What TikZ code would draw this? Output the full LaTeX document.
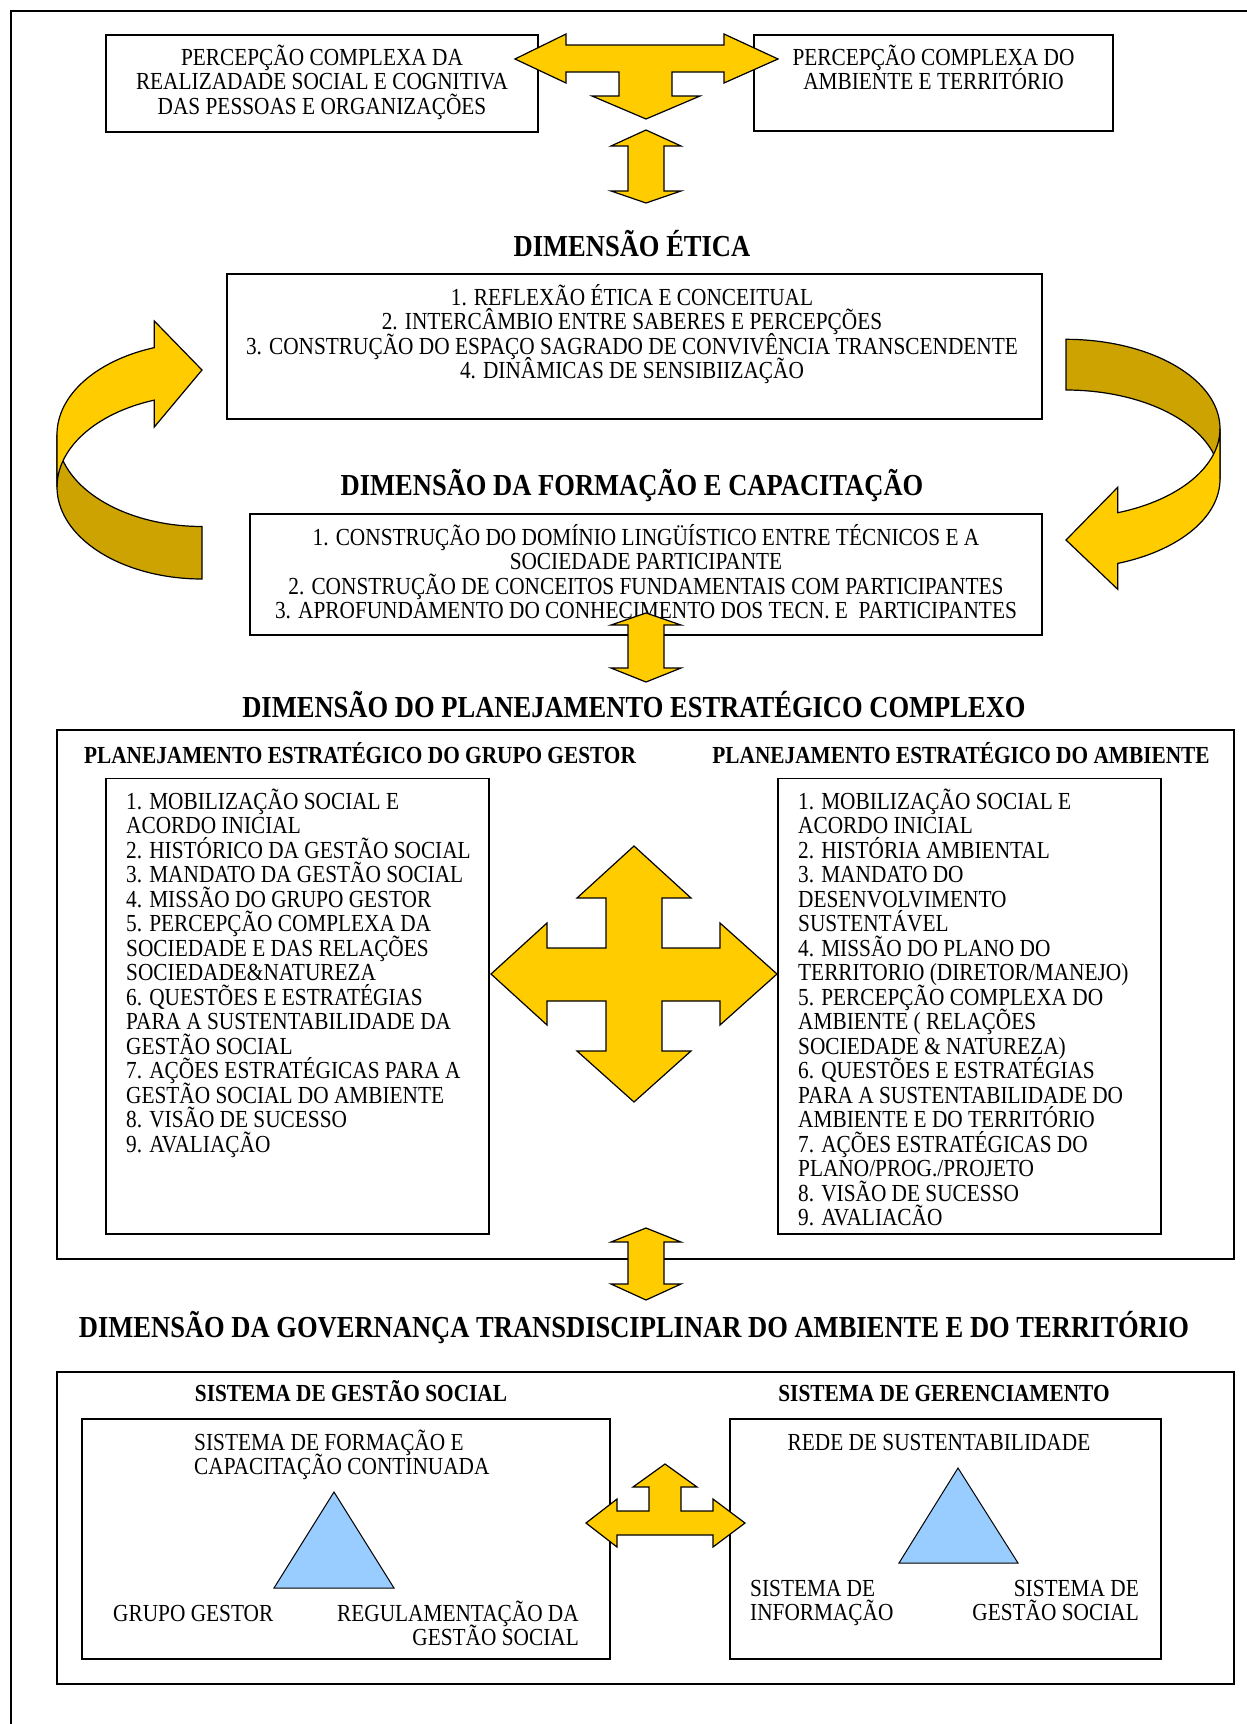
\documentclass[tikz,border=0pt]{standalone}
\usepackage{fontspec}
\setmainfont{Liberation Serif}[FakeStretch=0.87]
\definecolor{amarelo}{RGB}{255,204,0}
\definecolor{ouro}{RGB}{204,163,0}
\definecolor{azul}{RGB}{153,204,255}
\newcommand{\capstrut}{\rule{0pt}{24pt}}
\newcommand{\bodyfont}{\fontsize{24.5}{24.5}\selectfont\lineskiplimit=-50pt\relax}
\tikzset{
  box/.style={draw,line width=1.6pt,inner sep=0pt},
  txt/.style={inner sep=0pt,font=\bodyfont},
  ttl/.style={inner sep=0pt,anchor=base,font=\fontsize{30.5}{30.5}\selectfont\bfseries},
  sub/.style={inner sep=0pt,anchor=base,font=\fontsize{24.5}{24.5}\selectfont\bfseries},
  blockarrow/.style={draw,fill=amarelo,line width=1.2pt},
  backarrow/.style={draw,fill=ouro,line width=1.2pt},
  tri/.style={draw,fill=azul,line width=1pt}
}
\begin{document}
\begin{tikzpicture}[x=1pt,y=-1pt]
\useasboundingbox(0,0)rectangle(1247,1724);
\draw[line width=2pt](1260,11)--(11,11)--(11,1740);

\node[box,minimum width=432pt,minimum height=97pt](1)at(322,83.5){};
\node[box,minimum width=359pt,minimum height=96pt](2)at(933.5,83){};
\node[txt,anchor=north,align=center](3)at(322,41){\capstrut PERCEPÇÃO COMPLEXA DA\\REALIZADADE SOCIAL E COGNITIVA\\DAS PESSOAS E ORGANIZAÇÕES};
\node[txt,anchor=north,align=center](4)at(933.5,41){\capstrut PERCEPÇÃO COMPLEXA DO\\AMBIENTE E TERRITÓRIO};

\node[ttl](5)at(632,256.5){DIMENSÃO ÉTICA};
\node[box,minimum width=815pt,minimum height=145pt](6)at(634.5,346.5){};
\node[txt,anchor=north,align=center](7)at(632,281){\capstrut 1. REFLEXÃO ÉTICA E CONCEITUAL\\2. INTERCÂMBIO ENTRE SABERES E PERCEPÇÕES\\3. CONSTRUÇÃO DO ESPAÇO SAGRADO DE CONVIVÊNCIA TRANSCENDENTE\\4. DINÂMICAS DE SENSIBIIZAÇÃO};

\node[ttl](8)at(632,495.5){DIMENSÃO DA FORMAÇÃO E CAPACITAÇÃO};
\node[box,minimum width=792pt,minimum height=121pt](9)at(646,574.5){};
\node[txt,anchor=north,align=center](10)at(646,521){\capstrut 1. CONSTRUÇÃO DO DOMÍNIO LINGÜÍSTICO ENTRE TÉCNICOS E A\\SOCIEDADE PARTICIPANTE\\2. CONSTRUÇÃO DE CONCEITOS FUNDAMENTAIS COM PARTICIPANTES\\3. APROFUNDAMENTO DO CONHECIMENTO DOS TECN. E~~PARTICIPANTES};

\node[ttl](11)at(634,717){DIMENSÃO DO PLANEJAMENTO ESTRATÉGICO COMPLEXO};
\node[box,minimum width=1177pt,minimum height=529pt](12)at(645.5,994.5){};
\node[sub](13)at(360,763){PLANEJAMENTO ESTRATÉGICO DO GRUPO GESTOR};
\node[sub](14)at(961,763){PLANEJAMENTO ESTRATÉGICO DO AMBIENTE};
\node[box,minimum width=383pt,minimum height=455.5pt](15)at(297.5,1006.25){};
\node[box,minimum width=383pt,minimum height=455.5pt](16)at(969.5,1006.25){};
\node[txt,anchor=north west,align=left](17)at(126,785){\capstrut 1. MOBILIZAÇÃO SOCIAL E\\ACORDO INICIAL\\2. HISTÓRICO DA GESTÃO SOCIAL\\3. MANDATO DA GESTÃO SOCIAL\\4. MISSÃO DO GRUPO GESTOR\\5. PERCEPÇÃO COMPLEXA DA\\SOCIEDADE E DAS RELAÇÕES\\SOCIEDADE\&NATUREZA\\6. QUESTÕES E ESTRATÉGIAS\\PARA A SUSTENTABILIDADE DA\\GESTÃO SOCIAL\\7. AÇÕES ESTRATÉGICAS PARA A\\GESTÃO SOCIAL DO AMBIENTE\\8. VISÃO DE SUCESSO\\9. AVALIAÇÃO};
\node[txt,anchor=north west,align=left](18)at(798,785){\capstrut 1. MOBILIZAÇÃO SOCIAL E\\ACORDO INICIAL\\2. HISTÓRIA AMBIENTAL\\3. MANDATO DO\\DESENVOLVIMENTO\\SUSTENTÁVEL\\4. MISSÃO DO PLANO DO\\TERRITORIO (DIRETOR/MANEJO)\\5. PERCEPÇÃO COMPLEXA DO\\AMBIENTE ( RELAÇÕES\\SOCIEDADE \& NATUREZA)\\6. QUESTÕES E ESTRATÉGIAS\\PARA A SUSTENTABILIDADE DO\\AMBIENTE E DO TERRITÓRIO\\7. AÇÕES ESTRATÉGICAS DO\\PLANO/PROG./PROJETO\\8. VISÃO DE SUCESSO\\9. AVALIACÃO};

\node[ttl](19)at(634,1337.5){DIMENSÃO DA GOVERNANÇA TRANSDISCIPLINAR DO AMBIENTE E DO TERRITÓRIO};
\node[box,minimum width=1177pt,minimum height=312pt](20)at(645.5,1528){};
\node[sub](21)at(351,1401){SISTEMA DE GESTÃO SOCIAL};
\node[sub](22)at(944,1401){SISTEMA DE GERENCIAMENTO};
\node[box,minimum width=528pt,minimum height=240pt](23)at(346,1539){};
\node[box,minimum width=431pt,minimum height=240pt](24)at(945.5,1539){};
\node[txt,anchor=north west,align=left](25)at(194,1426){\capstrut SISTEMA DE FORMAÇÃO E\\CAPACITAÇÃO CONTINUADA};
\node[txt,anchor=base west](26)at(113,1621){GRUPO GESTOR};
\node[txt,anchor=north east,align=right](27)at(579,1597){\capstrut REGULAMENTAÇÃO DA\\GESTÃO SOCIAL};
\node[txt,anchor=base](28)at(939,1450){REDE DE SUSTENTABILIDADE};
\node[txt,anchor=north west,align=left](29)at(750,1572){\capstrut SISTEMA DE\\INFORMAÇÃO};
\node[txt,anchor=north east,align=right](30)at(1139,1572){\capstrut SISTEMA DE\\GESTÃO SOCIAL};
\draw[tri](334,1492)--(394,1588)--(274,1588)--cycle;
\draw[tri](958,1468)--(1018,1563)--(899,1563)--cycle;

\draw[blockarrow](515,59)--(566,34)--(566,45)--(724,45)--(724,34)--(778,59)--(724,83)--(724,72)--(672,72)--(672,96)--(700,96)--(646,119)--(592,96)--(619,96)--(619,72)--(566,72)--(566,83)--cycle;
\draw[blockarrow](646,130)--(681,146)--(664,146)--(664,191)--(681,191)--(646,203)--(611,191)--(628,191)--(628,146)--(611,146)--cycle;
\draw[blockarrow](646,613)--(681,625)--(664,625)--(664,668)--(681,668)--(646,682)--(611,668)--(628,668)--(628,625)--(611,625)--cycle;
\draw[blockarrow](646,1228)--(681,1242)--(664,1242)--(664,1284)--(681,1284)--(646,1300)--(611,1284)--(628,1284)--(628,1242)--(611,1242)--cycle;
\draw[blockarrow](634,846)--(691,898)--(662,898)--(662,948)--(720,948)--(720,923)--(777,974)--(720,1025)--(720,1001)--(662,1001)--(662,1051)--(691,1051)--(634,1102)--(577,1051)--(606,1051)--(606,1001)--(547,1001)--(547,1025)--(491,974)--(547,923)--(547,948)--(606,948)--(606,898)--(577,898)--cycle;
\draw[blockarrow](586,1523)--(617,1499)--(617,1511)--(649,1511)--(649,1487)--(633,1487)--(665,1464)--(697,1487)--(681,1487)--(681,1511)--(713,1511)--(713,1499)--(745,1523)--(713,1547)--(713,1535)--(617,1535)--(617,1547)--cycle;

\draw[backarrow]plot[domain=0:90,samples=40,variable=\t]({202-145*cos(\t)},{487+92*sin(\t)})--plot[domain=90:0,samples=40,variable=\t]({202-145*cos(\t)},{434.5+92*sin(\t)})--cycle;
\draw[blockarrow]plot[domain=0:70.8,samples=40,variable=\t]({202-145*cos(\t)},{434.5-92*sin(\t)})--(154.3,321)--(202,370)--(154.3,427)--plot[domain=70.8:0,samples=40,variable=\t]({202-145*cos(\t)},{487-92*sin(\t)})--cycle;
\draw[backarrow]plot[domain=90:0,samples=40,variable=\t]({1066+154*cos(\t)},{428.6-89.3*sin(\t)})--plot[domain=0:90,samples=40,variable=\t]({1066+154*cos(\t)},{479.3-89.3*sin(\t)})--cycle;
\draw[blockarrow]plot[domain=0:70.4,samples=40,variable=\t]({1066+154*cos(\t)},{428.6+89.3*sin(\t)})--(1117.7,487.3)--(1066,540)--(1117.7,589.3)--plot[domain=70.4:0,samples=40,variable=\t]({1066+154*cos(\t)},{479.3+89.3*sin(\t)})--cycle;
\end{tikzpicture}
\end{document}
